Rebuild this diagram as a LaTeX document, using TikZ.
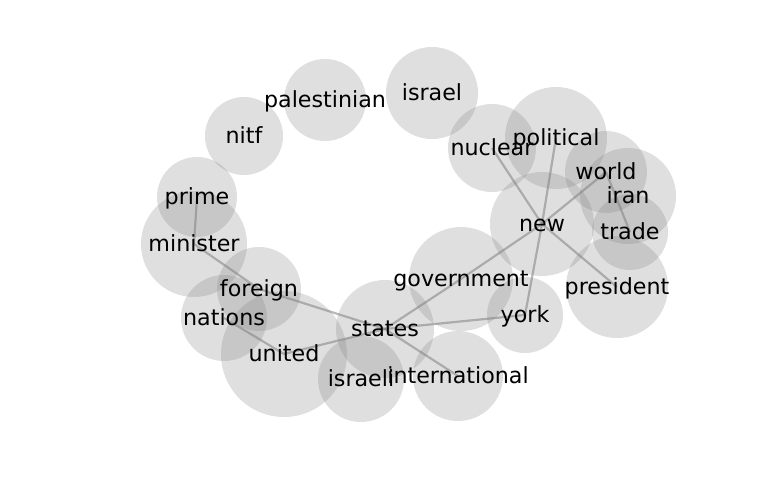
\documentclass[tikz,border=0pt]{standalone}
\usepackage{fontspec}
\setmainfont{DejaVu Sans}
\begin{document}
\begin{tikzpicture}[x=1pt,y=-1pt,
  bub/.style={circle, fill=gray, fill opacity=0.25, inner sep=0pt, minimum size=#1},
  edge/.style={draw=gray, draw opacity=0.55, line width=2.2pt},
  lbl/.style={inner sep=0pt, text=black, font=\fontsize{22.2}{26}\selectfont, text height=20.6pt, text depth=5.24pt}]
\useasboundingbox (0,0) rectangle (768,500);
% bubbles
\node[bub=82pt]  (palestinian) at (325,100) {};
\node[bub=78pt]  (nitf) at (244,136) {};
\node[bub=80pt]  (prime) at (197,197) {};
\node[bub=106pt] (minister) at (194,244) {};
\node[bub=92pt]  (israel) at (432,93) {};
\node[bub=88pt]  (nuclear) at (492,148) {};
\node[bub=102pt] (political) at (556,138) {};
\node[bub=82pt]  (world) at (606,172) {};
\node[bub=96pt]  (iran) at (628,196) {};
\node[bub=76pt]  (trade) at (630,232) {};
\node[bub=104pt] (new) at (542,224) {};
\node[bub=102pt] (president) at (617,287) {};
\node[bub=104pt] (government) at (461,279) {};
\node[bub=76pt]  (york) at (525,315) {};
\node[bub=98pt]  (states) at (385,329) {};
\node[bub=90pt]  (international) at (458,376) {};
\node[bub=86pt]  (israeli) at (361,379) {};
\node[bub=126pt] (united) at (284,354) {};
\node[bub=86pt]  (nations) at (224,318) {};
\node[bub=84pt]  (foreign) at (259,289) {};
% edges
\draw[edge] (prime.center) -- (minister.center);
\draw[edge] (minister.center) -- (foreign.center);
\draw[edge] (foreign.center) -- (states.center);
\draw[edge] (nations.center) -- (united.center);
\draw[edge] (united.center) -- (states.center);
\draw[edge] (states.center) -- (government.center);
\draw[edge] (government.center) -- (new.center);
\draw[edge] (states.center) -- (york.center);
\draw[edge] (states.center) -- (international.center);
\draw[edge] (york.center) -- (new.center);
\draw[edge] (new.center) -- (political.center);
\draw[edge] (nuclear.center) -- (new.center);
\draw[edge] (new.center) -- (president.center);
\draw[edge] (new.center) -- (world.center);
\draw[edge] (world.center) -- (trade.center);
% labels
\foreach \n in {palestinian,nitf,prime,minister,israel,nuclear,political,world,iran,trade,new,president,government,york,states,international,israeli,united,nations,foreign}
  \node[lbl] (t-\n) at (\n.center) {\n};
\end{tikzpicture}
\end{document}
